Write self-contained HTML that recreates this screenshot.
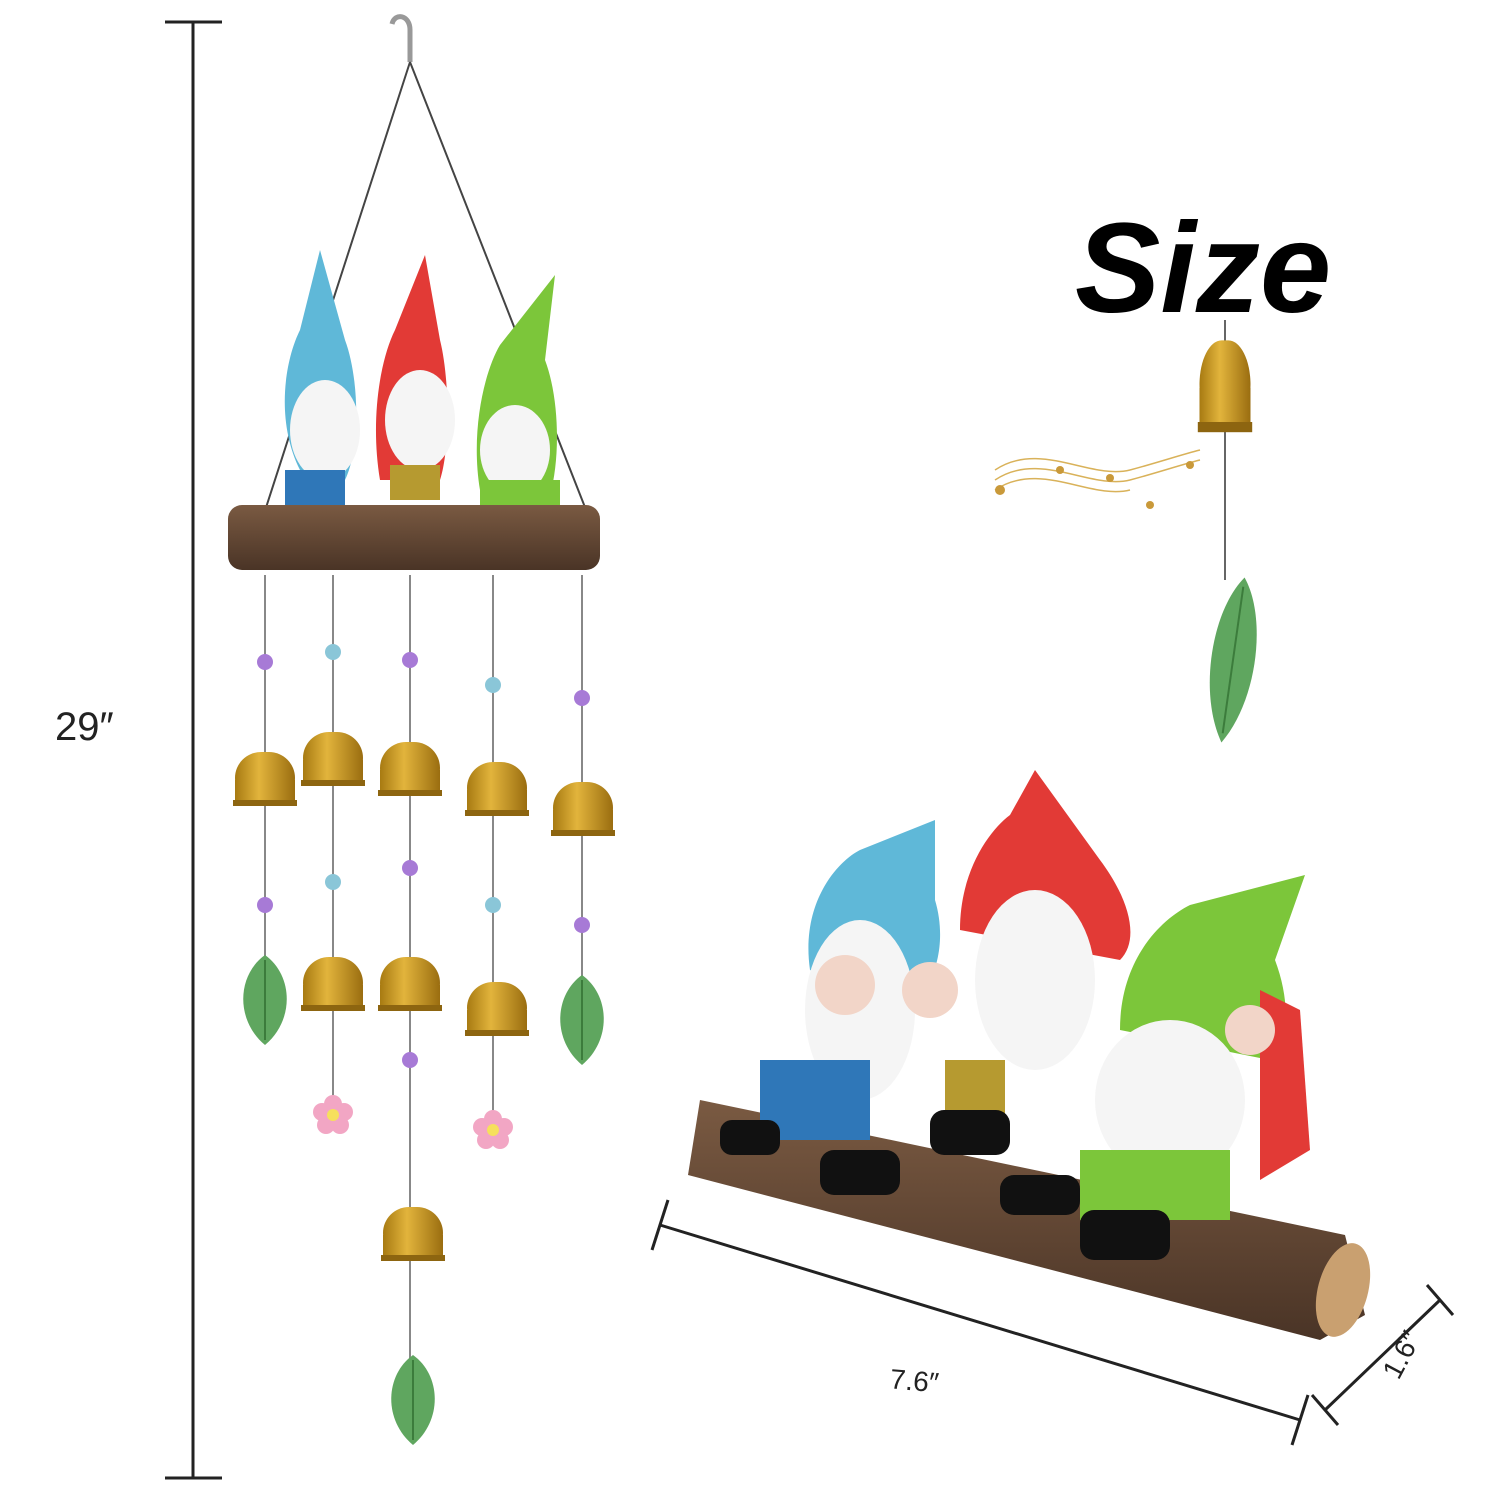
<!DOCTYPE html>
<html><head><meta charset="utf-8"><style>
html,body{margin:0;padding:0;background:#fff;width:1500px;height:1500px;overflow:hidden}
svg{display:block}
text{font-family:"Liberation Sans",sans-serif}
</style></head><body>
<svg width="1500" height="1500" viewBox="0 0 1500 1500">
<defs>
<linearGradient id="gold" x1="0" x2="1"><stop offset="0" stop-color="#a77a12"/><stop offset="0.4" stop-color="#e2b43c"/><stop offset="1" stop-color="#9a6d10"/></linearGradient>
<linearGradient id="wood" x1="0" y1="0" x2="0" y2="1"><stop offset="0" stop-color="#7a5a42"/><stop offset="1" stop-color="#4a3426"/></linearGradient>
<g id="bell"><rect x="-30" y="-28" width="60" height="52" rx="26" ry="26" fill="url(#gold)"/><rect x="-30" y="0" width="60" height="24" fill="url(#gold)"/><rect x="-32" y="20" width="64" height="6" fill="#8d6510"/></g>
<g id="leaf"><path d="M0,-45 C28,-25 30,20 0,45 C-30,20 -28,-25 0,-45Z" fill="#5fa65f"/><path d="M0,-40 L0,40" stroke="#3c7c3c" stroke-width="2"/></g>
<g id="flower" fill="#f2a6c4"><circle cx="0" cy="-11" r="9"/><circle cx="11" cy="-3" r="9"/><circle cx="7" cy="10" r="9"/><circle cx="-7" cy="10" r="9"/><circle cx="-11" cy="-3" r="9"/><circle r="6" fill="#f6e05c"/></g>
</defs>

<g stroke="#222" stroke-width="3">
<line x1="193" y1="22" x2="193" y2="1478"/><line x1="165" y1="22" x2="222" y2="22"/><line x1="165" y1="1478" x2="222" y2="1478"/>
</g>
<rect x="45" y="695" width="125" height="60" fill="#fff"/>
<text x="55" y="740" font-size="40" fill="#222">29″</text>

<g>
<path d="M410,62 L410,30 C410,15 395,12 392,24" stroke="#999" stroke-width="5" fill="none"/>
<path d="M410,62 L262,520 M410,62 L590,520" stroke="#444" stroke-width="2" fill="none"/>
<g stroke="#888" stroke-width="2">
<line x1="265" y1="575" x2="265" y2="1000"/><line x1="333" y1="575" x2="333" y2="1115"/><line x1="410" y1="575" x2="410" y2="1400"/><line x1="493" y1="575" x2="493" y2="1130"/><line x1="582" y1="575" x2="582" y2="1020"/>
</g>
<path d="M300,470 C275,420 285,360 300,330 L320,250 L345,340 C360,380 360,450 345,480Z" fill="#5fb8d8"/>
<ellipse cx="325" cy="430" rx="35" ry="50" fill="#f5f5f5"/>
<path d="M380,480 C370,420 380,360 395,330 L425,255 L440,340 C450,380 450,450 440,480Z" fill="#e23a36"/>
<ellipse cx="420" cy="420" rx="35" ry="50" fill="#f5f5f5"/>
<path d="M480,490 C470,430 485,370 500,345 L555,275 L545,360 C560,400 560,460 550,495Z" fill="#7cc63a"/>
<ellipse cx="515" cy="450" rx="35" ry="45" fill="#f5f5f5"/>
<rect x="285" y="470" width="60" height="40" fill="#2f77b8"/><rect x="390" y="465" width="50" height="35" fill="#b69a30"/><rect x="480" y="480" width="80" height="30" fill="#7cc63a"/>
<rect x="280" y="505" width="120" height="30" fill="#111" rx="10"/><rect x="450" y="505" width="120" height="25" fill="#111" rx="10"/>
<rect x="228" y="505" width="372" height="65" rx="14" fill="url(#wood)"/>
<g fill="#a77ad6"><circle cx="265" cy="662" r="8"/><circle cx="410" cy="660" r="8"/><circle cx="582" cy="698" r="8"/><circle cx="265" cy="905" r="8"/><circle cx="410" cy="868" r="8"/><circle cx="582" cy="925" r="8"/><circle cx="410" cy="1060" r="8"/></g>
<g fill="#8ac6d8"><circle cx="333" cy="652" r="8"/><circle cx="493" cy="685" r="8"/><circle cx="333" cy="882" r="8"/><circle cx="493" cy="905" r="8"/></g>
<use href="#bell" x="265" y="780"/><use href="#bell" x="333" y="760"/><use href="#bell" x="410" y="770"/><use href="#bell" x="497" y="790"/><use href="#bell" x="583" y="810"/>
<use href="#bell" x="333" y="985"/><use href="#bell" x="410" y="985"/><use href="#bell" x="497" y="1010"/><use href="#bell" x="413" y="1235"/>
<use href="#leaf" x="265" y="1000"/><use href="#leaf" x="582" y="1020"/><use href="#leaf" x="413" y="1400"/>
<use href="#flower" x="333" y="1115"/><use href="#flower" x="493" y="1130"/>
</g>

<text x="1075" y="312" font-size="128" font-weight="bold" font-style="italic" font-family="Liberation Serif,serif" fill="#000">Size</text>

<g>
<line x1="1225" y1="320" x2="1225" y2="580" stroke="#666" stroke-width="2"/>
<use href="#bell" transform="translate(1225,388) scale(0.85,1.7)"/>
<use href="#leaf" transform="translate(1233,660) rotate(8) scale(1.0,1.85)"/>
<path d="M995,470 C1040,440 1090,480 1130,470 C1160,462 1180,455 1200,450 M995,480 C1040,450 1090,490 1130,480 C1160,472 1180,465 1200,460 M995,490 C1040,460 1090,500 1130,490" stroke="#d9b25a" stroke-width="1.5" fill="none"/>
<g fill="#c9993a"><circle cx="1000" cy="490" r="5"/><circle cx="1060" cy="470" r="4"/><circle cx="1110" cy="478" r="4"/><circle cx="1150" cy="505" r="4"/><circle cx="1190" cy="465" r="4"/></g>
</g>

<g>
<path d="M700,1100 L1345,1235 L1365,1315 L1320,1340 L688,1175Z" fill="url(#wood)"/>
<ellipse cx="1343" cy="1290" rx="25" ry="48" fill="#c9a070" transform="rotate(15 1343 1290)"/>
<path d="M810,970 C800,900 840,860 860,850 L935,820 L935,900 C950,950 930,1000 900,1010Z" fill="#5fb8d8"/>
<ellipse cx="860" cy="1010" rx="55" ry="90" fill="#f5f5f5"/>
<path d="M960,930 C960,870 990,830 1010,815 L1035,770 L1100,860 C1130,900 1140,940 1120,960Z" fill="#e23a36"/>
<ellipse cx="1035" cy="980" rx="60" ry="90" fill="#f5f5f5"/>
<path d="M1120,1030 C1120,960 1160,920 1190,905 L1305,875 L1275,960 C1290,1000 1290,1040 1270,1060Z" fill="#7cc63a"/>
<path d="M1260,990 L1300,1010 L1310,1150 L1260,1180Z" fill="#e23a36"/>
<ellipse cx="1170" cy="1100" rx="75" ry="80" fill="#f5f5f5"/>
<rect x="760" y="1060" width="110" height="80" fill="#2f77b8"/><rect x="945" y="1060" width="60" height="60" fill="#b69a30"/><rect x="1080" y="1150" width="150" height="70" fill="#7cc63a"/>
<rect x="720" y="1120" width="60" height="35" rx="12" fill="#111"/><rect x="820" y="1150" width="80" height="45" rx="14" fill="#111"/><rect x="930" y="1110" width="80" height="45" rx="14" fill="#111"/><rect x="1000" y="1175" width="80" height="40" rx="14" fill="#111"/><rect x="1080" y="1210" width="90" height="50" rx="14" fill="#111"/>
<circle cx="845" cy="985" r="30" fill="#f2d5c8"/><circle cx="930" cy="990" r="28" fill="#f2d5c8"/><circle cx="1250" cy="1030" r="25" fill="#f2d5c8"/>
</g>

<g stroke="#222" stroke-width="3">
<line x1="660" y1="1225" x2="1300" y2="1420"/><line x1="652" y1="1250" x2="668" y2="1200"/><line x1="1292" y1="1445" x2="1308" y2="1395"/>
</g>
<text x="890" y="1390" font-size="28" fill="#222" transform="rotate(5 910 1380)">7.6″</text>
<g stroke="#222" stroke-width="3">
<line x1="1325" y1="1410" x2="1440" y2="1300"/><line x1="1312" y1="1395" x2="1338" y2="1425"/><line x1="1427" y1="1285" x2="1453" y2="1315"/>
</g>
<text x="1380" y="1380" font-size="28" fill="#222" transform="rotate(-62 1390 1365)">1.6″</text>
</svg>
</body></html>
